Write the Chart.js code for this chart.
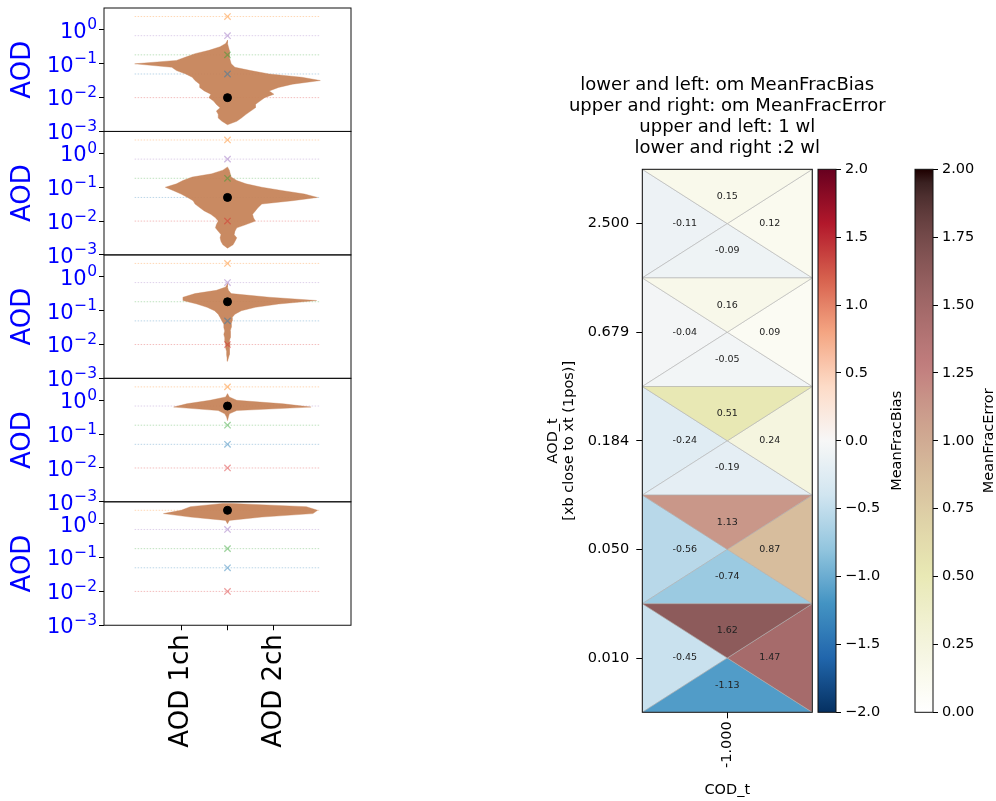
<!DOCTYPE html>
<html>
<head>
<meta charset="utf-8">
<title>AOD violins and MeanFrac triangles</title>
<script src="https://cdn.jsdelivr.net/npm/chart.js@4.4.1/dist/chart.umd.min.js"></script>
<style>
  html, body { margin: 0; padding: 0; background: #fff; }
  #page { position: relative; width: 996px; height: 801px; overflow: hidden; background: #fff; }
  canvas { position: absolute; }
</style>
</head>
<body>
<div id="page">
  <canvas id="panel0"></canvas>
  <canvas id="panel1"></canvas>
  <canvas id="panel2"></canvas>
  <canvas id="panel3"></canvas>
  <canvas id="panel4"></canvas>
  <canvas id="heat"></canvas>
  <canvas id="cbBias"></canvas>
  <canvas id="cbError"></canvas>
</div>
<script>
// ===============================
// DATA — violin panels (one per true AOD)
// ===============================
const aodTrue = [0.01, 0.05, 0.184, 0.679, 2.5];
const aodColors = ["#d62728", "#1f77b4", "#2ca02c", "#9467bd", "#ff7f0e"];
const yTickValues = [0.001, 0.01, 0.1, 1];
const xTickPos = [-0.5, 0, 0.5];
const xTickLabels = ["AOD 1ch", "", "AOD 2ch"];

// retrieved AOD bins (0.1 decade)
const aodLevels = [0.00158, 0.002, 0.0025, 0.0032, 0.004, 0.005, 0.0063, 0.0079,
                   0.01, 0.0126, 0.0158, 0.02, 0.025, 0.032, 0.04, 0.05, 0.063, 0.079,
                   0.1, 0.126, 0.158, 0.2, 0.25, 0.32, 0.4, 0.5, 0.63, 0.79,
                   1.0, 1.26, 1.58, 2.0, 2.5, 3.2, 4.0];

// violin half widths per bin: 1ch to the left, 2ch to the right
const w1ch_0010 = [0, 0.06, 0.1, 0.1, 0.12, 0.08, 0.12, 0.15, 0.2, 0.18, 0.25, 0.3, 0.3, 0.35, 0.38, 0.45, 0.55, 0.6, 1.0, 0.55, 0.45, 0.35, 0.2, 0.08, 0.02, 0, 0, 0, 0, 0, 0, 0, 0, 0, 0];
const w2ch_0010 = [0, 0.1, 0.15, 0.2, 0.25, 0.3, 0.3, 0.35, 0.4, 0.5, 0.45, 0.55, 0.7, 1.0, 0.8, 0.45, 0.25, 0.08, 0.04, 0.03, 0.02, 0.02, 0.02, 0.01, 0, 0, 0, 0, 0, 0, 0, 0, 0, 0, 0];
const w1ch_0050 = [0, 0.05, 0.07, 0.08, 0.07, 0.1, 0.13, 0.12, 0.1, 0.13, 0.18, 0.25, 0.3, 0.35, 0.37, 0.43, 0.5, 0.58, 0.67, 0.55, 0.48, 0.38, 0.17, 0.05, 0, 0, 0, 0, 0, 0, 0, 0, 0, 0, 0];
const w2ch_0050 = [0, 0.06, 0.08, 0.1, 0.07, 0.08, 0.1, 0.2, 0.3, 0.28, 0.27, 0.3, 0.33, 0.37, 0.7, 0.97, 0.83, 0.6, 0.37, 0.2, 0.1, 0.04, 0.03, 0.02, 0, 0, 0, 0, 0, 0, 0, 0, 0, 0, 0];
const w1ch_0184 = [0, 0, 0, 0, 0.005, 0.01, 0.01, 0.02, 0.02, 0.03, 0.03, 0.04, 0.03, 0.04, 0.04, 0.06, 0.08, 0.1, 0.14, 0.22, 0.33, 0.48, 0.48, 0.35, 0.12, 0.02, 0, 0, 0, 0, 0, 0, 0, 0, 0];
const w2ch_0184 = [0, 0, 0, 0, 0.01, 0.02, 0.02, 0.02, 0.03, 0.02, 0.03, 0.03, 0.03, 0.04, 0.04, 0.05, 0.05, 0.08, 0.15, 0.3, 0.55, 0.96, 0.45, 0.04, 0.01, 0, 0, 0, 0, 0, 0, 0, 0, 0, 0];
const w1ch_0679 = [0, 0, 0, 0, 0, 0, 0, 0, 0, 0, 0, 0, 0, 0, 0, 0, 0, 0, 0, 0, 0, 0, 0, 0.01, 0.03, 0.1, 0.58, 0.44, 0.19, 0.02, 0, 0, 0, 0, 0];
const w2ch_0679 = [0, 0, 0, 0, 0, 0, 0, 0, 0, 0, 0, 0, 0, 0, 0, 0, 0, 0, 0, 0, 0, 0, 0, 0.01, 0.02, 0.1, 0.9, 0.6, 0.1, 0.02, 0, 0, 0, 0, 0];
const w1ch_2500 = [0, 0, 0, 0, 0, 0, 0, 0, 0, 0, 0, 0, 0, 0, 0, 0, 0, 0, 0, 0, 0, 0, 0, 0, 0, 0, 0, 0, 0, 0.02, 0.4, 0.69, 0.5, 0.4, 0.05];
const w2ch_2500 = [0, 0, 0, 0, 0, 0, 0, 0, 0, 0, 0, 0, 0, 0, 0, 0, 0, 0, 0, 0, 0, 0, 0, 0, 0, 0, 0, 0, 0, 0.02, 0.37, 0.92, 0.97, 0.85, 0.05];

const widths1ch = [w1ch_0010, w1ch_0050, w1ch_0184, w1ch_0679, w1ch_2500];
const widths2ch = [w2ch_0010, w2ch_0050, w2ch_0184, w2ch_0679, w2ch_2500];

// ===============================
// DATA — triangle map
// ===============================
const aodRowLabels = ["0.010", "0.050", "0.184", "0.679", "2.500"];
const codLabels = ["-1.000"];
const biasLeft1wl = [-0.45, -0.56, -0.24, -0.04, -0.11];
const biasLower2wl = [-1.13, -0.74, -0.19, -0.05, -0.09];
const errUpper1wl = [1.62, 1.13, 0.51, 0.16, 0.15];
const errRight2wl = [1.47, 0.87, 0.24, 0.09, 0.12];
const titleLines = [
    "lower and left: om MeanFracBias",
    "upper and right: om MeanFracError",
    "upper and left: 1 wl",
    "lower and right :2 wl"
];

// ===============================
// HELPERS
// ===============================
const FONT = '"DejaVu Sans", sans-serif';
Chart.defaults.font.family = FONT;
Chart.defaults.color = "#000";

function rgba(hex, a) {
    const n = parseInt(hex.slice(1), 16);
    return `rgba(${n >> 16},${(n >> 8) & 255},${n & 255},${a})`;
}

// RdBu_r, -2 .. 2
const rdbuStops = ["#053061", "#2166ac", "#4393c3", "#92c5de", "#d1e5f0", "#f7f7f7",
                   "#fddbc7", "#f4a582", "#d6604d", "#b2182b", "#67001f"];
function rdbuR(v) {
    const t = Math.min(Math.max((v + 2) / 4, 0), 1) * 10;
    const i = Math.min(Math.floor(t), 9), f = t - i;
    const a = parseInt(rdbuStops[i].slice(1), 16), b = parseInt(rdbuStops[i + 1].slice(1), 16);
    const mix = (sh) => Math.round(((a >> sh) & 255) * (1 - f) + ((b >> sh) & 255) * f);
    return `rgb(${mix(16)},${mix(8)},${mix(0)})`;
}

// pink_r, 0 .. 2  (pink = sqrt((2*gray + hot)/3))
function pinkR(v) {
    const x = 1 - Math.min(Math.max(v / 2, 0), 1);
    const hot = [
        Math.min(1, 0.0416 + x / 0.365079 * 0.9584),
        Math.min(1, Math.max(0, (x - 0.365079) / 0.380953)),
        Math.min(1, Math.max(0, (x - 0.746032) / 0.253968))
    ];
    const c = hot.map(h => Math.round(255 * Math.sqrt((2 * x + h) / 3)));
    return `rgb(${c[0]},${c[1]},${c[2]})`;
}

function violinPoints(left, right) {
    const used = aodLevels.map((_, i) => left[i] > 0 || right[i] > 0);
    const first = Math.max(0, used.indexOf(true) - 1);
    const last = Math.min(aodLevels.length - 1, used.lastIndexOf(true) + 1);
    const pts = [];
    for (let i = first; i <= last; i++) pts.push({ x: -left[i], y: aodLevels[i] });
    for (let i = last; i >= first; i--) pts.push({ x: right[i], y: aodLevels[i] });
    return pts;
}

// box around the plotting area
const frame = {
    id: "frame",
    afterDatasetsDraw(chart) {
        const { ctx, chartArea: a } = chart;
        ctx.save();
        ctx.strokeStyle = "#111";
        ctx.lineWidth = 1;
        ctx.strokeRect(a.left, a.top, a.right - a.left, a.bottom - a.top);
        ctx.restore();
    }
};

// 10^n tick labels and the blue "AOD" label
const powerTicks = {
    id: "powerTicks",
    afterDraw(chart) {
        const { ctx, chartArea: a, scales: { y } } = chart;
        ctx.save();
        ctx.fillStyle = "#0000ff";
        ctx.textAlign = "right";
        ctx.textBaseline = "alphabetic";
        yTickValues.forEach(v => {
            const py = y.getPixelForValue(v);
            const e = Math.round(Math.log10(v));
            const sup = e < 0 ? "\u2212" + (-e) : String(e);
            const right = a.left - 7;
            ctx.font = `15.5px ${FONT}`;
            const w = ctx.measureText(sup).width;
            ctx.fillText(sup, right, py - 0.5);
            ctx.font = `21px ${FONT}`;
            ctx.fillText("10", right - w - 0.5, py + 7.8);
        });
        ctx.font = `26px ${FONT}`;
        ctx.textAlign = "center";
        ctx.textBaseline = "middle";
        ctx.translate(23.5, (a.top + a.bottom) / 2);
        ctx.rotate(-Math.PI / 2);
        ctx.fillText("AOD", 0, 0);
        ctx.restore();
    }
};

// ===============================
// VIOLIN PANELS
// ===============================
const panelEdges = [8, 131.45, 254.9, 378.35, 501.8, 625.25];

function makePanel(k) {
    const cv = document.getElementById("panel" + k);
    const isLast = k === 4;
    const top = Math.floor(panelEdges[k]) - 16;
    const height = isLast ? 801 - top : Math.ceil(panelEdges[k + 1]) + 16 - top;
    cv.width = 360;
    cv.height = height;
    cv.style.left = "0px";
    cv.style.top = top + "px";

    const datasets = [];
    aodTrue.forEach((v, i) => {
        datasets.push({
            data: [{ x: -1, y: v }, { x: 1, y: v }],
            showLine: true,
            borderColor: rgba(aodColors[i], 0.3),
            borderWidth: 1,
            borderDash: [1.5, 1.5],
            pointRadius: 0,
            order: 4
        });
        datasets.push({
            data: [{ x: 0, y: v }],
            pointStyle: "crossRot",
            pointRadius: 4.5,
            borderColor: rgba(aodColors[i], 0.45),
            backgroundColor: rgba(aodColors[i], 0.45),
            borderWidth: 1.3,
            order: 2
        });
    });
    datasets.push({
        data: violinPoints(widths1ch[k], widths2ch[k]),
        showLine: true,
        fill: "shape",
        tension: 0,
        backgroundColor: "rgba(198,132,90,0.95)",
        borderColor: "rgba(198,132,90,0.6)",
        borderWidth: 0.6,
        pointRadius: 0,
        order: 3
    });
    datasets.push({
        data: [{ x: 0, y: aodTrue[k] }],
        pointRadius: 4,
        backgroundColor: "#000",
        borderColor: "#000",
        order: 0
    });

    new Chart(cv, {
        type: "scatter",
        data: { datasets },
        options: {
            responsive: false,
            animation: false,
            events: [],
            layout: {
                padding: {
                    left: 0,
                    right: 9,
                    top: panelEdges[k] - top,
                    bottom: isLast ? 0 : height - (panelEdges[k + 1] - top)
                }
            },
            plugins: { legend: { display: false }, tooltip: { enabled: false } },
            scales: {
                x: {
                    type: "linear",
                    min: -1.33,
                    max: 1.33,
                    display: isLast,
                    afterBuildTicks: s => { s.ticks = xTickPos.map(v => ({ value: v })); },
                    afterFit: s => { s.height = isLast ? 801 - panelEdges[5] : 0; },
                    ticks: {
                        autoSkip: false,
                        minRotation: 90,
                        maxRotation: 90,
                        padding: 4,
                        color: "#000",
                        font: { size: 26 },
                        callback: (v, i) => xTickLabels[i]
                    },
                    grid: { drawOnChartArea: false, color: "#000", tickLength: 5 },
                    border: { display: false }
                },
                y: {
                    type: "logarithmic",
                    min: 0.001,
                    max: 4.467,
                    afterBuildTicks: s => { s.ticks = yTickValues.map(v => ({ value: v })); },
                    afterFit: s => { s.width = 104; },
                    ticks: { display: false },
                    grid: { drawOnChartArea: false, color: "#000", tickLength: 5 },
                    border: { display: false }
                }
            }
        },
        plugins: [frame, powerTicks]
    });
}

for (let k = 0; k < 5; k++) makePanel(k);

// ===============================
// TRIANGLE MAP — bias (left/lower), error (upper/right)
// ===============================
function triangle(pts, color) {
    return {
        data: pts.concat([pts[0]]),
        showLine: true,
        fill: "shape",
        backgroundColor: color,
        borderColor: "rgba(175,175,175,0.7)",
        borderWidth: 0.8,
        pointRadius: 0,
        tension: 0
    };
}

const triangleSets = [];
aodRowLabels.forEach((_, r) => {
    const c = { x: 0, y: r };
    const tl = { x: -0.5, y: r + 0.5 }, tr = { x: 0.5, y: r + 0.5 };
    const bl = { x: -0.5, y: r - 0.5 }, br = { x: 0.5, y: r - 0.5 };
    triangleSets.push(triangle([tl, tr, c], pinkR(errUpper1wl[r])));
    triangleSets.push(triangle([tr, br, c], pinkR(errRight2wl[r])));
    triangleSets.push(triangle([bl, br, c], rdbuR(biasLower2wl[r])));
    triangleSets.push(triangle([tl, bl, c], rdbuR(biasLeft1wl[r])));
});

const cellText = {
    id: "cellText",
    afterDatasetsDraw(chart) {
        const { ctx, chartArea: a, scales: { x, y } } = chart;
        ctx.save();
        ctx.font = `9.5px ${FONT}`;
        ctx.fillStyle = "#222";
        ctx.textAlign = "center";
        ctx.textBaseline = "middle";
        const put = (v, cx, cy) => ctx.fillText(v.toFixed(2), x.getPixelForValue(cx), y.getPixelForValue(cy));
        aodRowLabels.forEach((_, r) => {
            put(errUpper1wl[r], 0, r + 0.25);
            put(errRight2wl[r], 0.25, r);
            put(biasLower2wl[r], 0, r - 0.25);
            put(biasLeft1wl[r], -0.25, r);
        });
        // title, centred over the plotting area
        ctx.font = `18px ${FONT}`;
        ctx.fillStyle = "#000";
        const cx = (a.left + a.right) / 2;
        titleLines.forEach((line, i) => ctx.fillText(line, cx, a.top - 83.5 + i * 21));
        ctx.restore();
    }
};

const heat = document.getElementById("heat");
heat.width = 380;
heat.height = 801;
heat.style.left = "530px";
heat.style.top = "0px";

new Chart(heat, {
    type: "scatter",
    data: { datasets: triangleSets },
    options: {
        responsive: false,
        animation: false,
        events: [],
        layout: { padding: { left: 0, right: 910 - 812.3, top: 169.3, bottom: 0 } },
        plugins: { legend: { display: false }, tooltip: { enabled: false } },
        scales: {
            x: {
                type: "linear",
                min: -0.5,
                max: 0.5,
                afterBuildTicks: s => { s.ticks = codLabels.map((_, i) => ({ value: i })); },
                afterFit: s => { s.height = 801 - 712.3; },
                ticks: {
                    autoSkip: false,
                    minRotation: 90,
                    maxRotation: 90,
                    padding: 3,
                    font: { size: 14.5 },
                    callback: (v, i) => codLabels[i]
                },
                title: { display: true, text: "COD_t", font: { size: 14.5, lineHeight: 1.1 }, padding: { top: 0, bottom: 3 } },
                grid: { drawOnChartArea: false, color: "#000", tickLength: 6 },
                border: { display: false }
            },
            y: {
                type: "linear",
                min: -0.5,
                max: 4.5,
                afterBuildTicks: s => { s.ticks = aodRowLabels.map((_, i) => ({ value: i })); },
                afterFit: s => { s.width = 112.3; },
                ticks: { padding: 7, font: { size: 14.5 }, callback: (v, i) => aodRowLabels[i] },
                title: {
                    display: true,
                    text: ["AOD_t", "[xb close to xt (1pos)]"],
                    font: { size: 14.5, lineHeight: 1.1 },
                    padding: { top: 15, bottom: 0 }
                },
                grid: { drawOnChartArea: false, color: "#000", tickLength: 6 },
                border: { display: false }
            }
        }
    },
    plugins: [frame, cellText]
});

// ===============================
// COLORBARS
// ===============================
const cbarFill = {
    id: "cbarFill",
    beforeDatasetsDraw(chart, args, opts) {
        const { ctx, chartArea: a, scales: { y } } = chart;
        const g = ctx.createLinearGradient(0, y.getPixelForValue(opts.min), 0, y.getPixelForValue(opts.max));
        for (let i = 0; i <= 40; i++) {
            const t = i / 40;
            g.addColorStop(t, opts.cmap(opts.min + t * (opts.max - opts.min)));
        }
        ctx.save();
        ctx.fillStyle = g;
        ctx.fillRect(a.left, a.top, a.right - a.left, a.bottom - a.top);
        ctx.restore();
    },
    afterDraw(chart, args, opts) {
        const { ctx, chartArea: a } = chart;
        ctx.save();
        ctx.font = `14.5px ${FONT}`;
        ctx.fillStyle = "#000";
        ctx.textAlign = "center";
        ctx.textBaseline = "middle";
        ctx.translate(a.right + opts.labelGap, (a.top + a.bottom) / 2);
        ctx.rotate(-Math.PI / 2);
        ctx.fillText(opts.label, 0, 0);
        ctx.restore();
    }
};

function makeColorbar(id, left, width, plotLeft, plotRight, min, max, step, digits, cmap, label, labelGap) {
    const cv = document.getElementById(id);
    cv.width = width;
    cv.height = 801;
    cv.style.left = left + "px";
    cv.style.top = "0px";
    new Chart(cv, {
        type: "scatter",
        data: { datasets: [{ data: [] }] },
        options: {
            responsive: false,
            animation: false,
            events: [],
            layout: { padding: { left: plotLeft - left, right: 0, top: 169.3, bottom: 801 - 712.3 } },
            plugins: {
                legend: { display: false },
                tooltip: { enabled: false },
                cbarFill: { min, max, cmap, label, labelGap }
            },
            scales: {
                x: { type: "linear", min: 0, max: 1, display: false },
                y: {
                    type: "linear",
                    position: "right",
                    min,
                    max,
                    afterFit: s => { s.width = left + width - plotRight; },
                    ticks: {
                        stepSize: step,
                        padding: 4,
                        font: { size: 14.5 },
                        callback: v => (v < 0 ? "\u2212" : "") + Math.abs(v).toFixed(digits)
                    },
                    grid: { drawOnChartArea: false, color: "#000", tickLength: 5 },
                    border: { display: false }
                }
            }
        },
        plugins: [cbarFill, frame]
    });
}

makeColorbar("cbBias", 800, 110, 818, 836, -2, 2, 0.5, 1, rdbuR, "MeanFracBias", 61);
makeColorbar("cbError", 900, 96, 915, 933, 0, 2, 0.25, 2, pinkR, "MeanFracError", 56);
</script>
</body>
</html>
